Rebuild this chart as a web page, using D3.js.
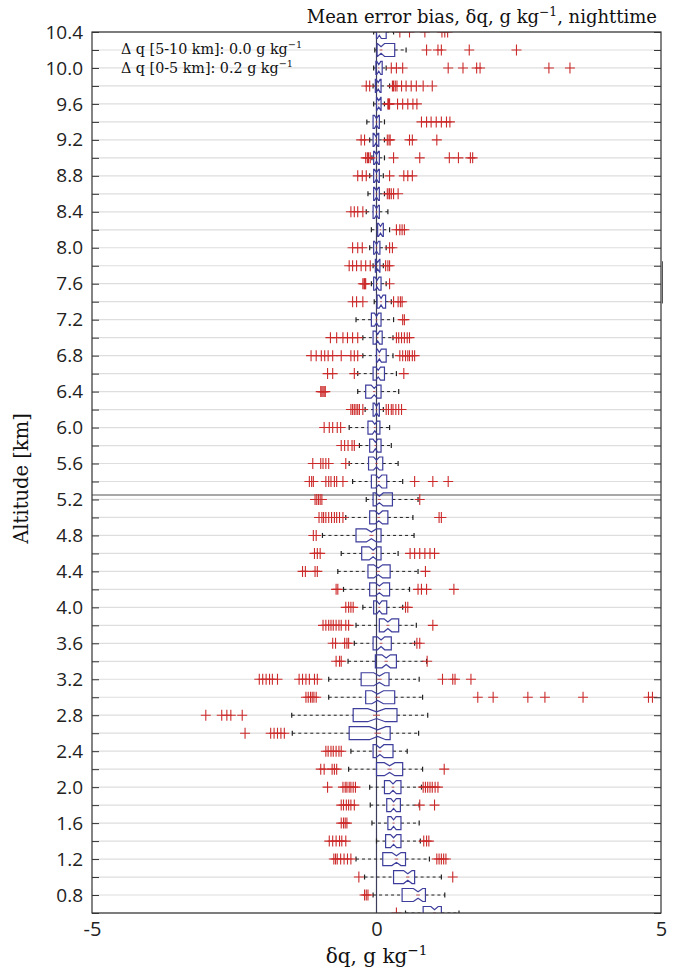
<!DOCTYPE html>
<html>
<head>
<meta charset="utf-8">
<script src="https://cdn.jsdelivr.net/npm/d3@7"></script>
<style>
  body { margin: 0; background: #fff; }
</style>
</head>
<body>
<div class="chart"></div>
<script>
// altitude rows, km (top to bottom)
const altitudes = [10.4, 10.2, 10.0, 9.8, 9.6, 9.4, 9.2, 9.0, 8.8, 8.6, 8.4, 8.2, 8.0, 7.8, 7.6, 7.4, 7.2, 7.0,
  6.8, 6.6, 6.4, 6.2, 6.0, 5.8, 5.6, 5.4, 5.2, 5.0, 4.8, 4.6, 4.4, 4.2, 4.0, 3.8, 3.6, 3.4, 3.2, 3.0,
  2.8, 2.6, 2.4, 2.2, 2.0, 1.8, 1.6, 1.4, 1.2, 1.0, 0.8, 0.6];

const whiskerLow = [-0.05, -0.03, -0.05, -0.06, -0.05, -0.17, -0.12, -0.08, -0.12, -0.15, -0.18, -0.09, -0.12, -0.06, -0.09, -0.04, -0.36, -0.24,
  -0.24, -0.33, -0.33, -0.2, -0.48, -0.3, -0.48, -0.42, -0.18, -0.54, -0.95, -0.62, -0.68, -0.58, -0.24, -0.36, -0.39, -0.5, -0.84, -0.84,
  -1.49, -1.48, -0.45, -0.49, -0.12, -0.11, -0.08, 0.0, -0.36, -0.21, -0.06, 0.51];
const q1 = [0.0, 0.01, -0.01, -0.02, 0.0, -0.06, -0.06, -0.05, -0.05, -0.05, -0.06, 0.02, -0.05, -0.02, -0.05, 0.01, -0.09, -0.06,
  0.0, -0.06, -0.19, -0.06, -0.15, -0.12, -0.14, -0.09, -0.06, -0.12, -0.36, -0.26, -0.15, -0.12, -0.05, 0.05, -0.06, -0.02, -0.27, -0.19,
  -0.41, -0.48, -0.06, 0.0, 0.14, 0.18, 0.2, 0.16, 0.11, 0.3, 0.45, 0.82];
const median = [0.05, 0.08, 0.04, 0.03, 0.04, 0.0, -0.01, 0.0, 0.0, 0.0, 0.0, 0.07, 0.0, 0.02, 0.01, 0.08, 0.0, 0.02,
  0.05, 0.03, -0.04, 0.0, -0.03, -0.02, 0.0, 0.04, 0.05, 0.04, -0.09, -0.06, 0.03, 0.05, 0.05, 0.2, 0.08, 0.17, 0.05, 0.02,
  0.0, 0.02, 0.06, 0.23, 0.29, 0.3, 0.3, 0.3, 0.35, 0.55, 0.73, 1.02];
const q3 = [0.17, 0.32, 0.1, 0.08, 0.08, 0.05, 0.04, 0.05, 0.05, 0.05, 0.05, 0.12, 0.06, 0.06, 0.08, 0.16, 0.08, 0.1,
  0.17, 0.14, 0.08, 0.05, 0.06, 0.08, 0.11, 0.18, 0.28, 0.2, 0.08, 0.08, 0.24, 0.23, 0.18, 0.39, 0.26, 0.35, 0.22, 0.32,
  0.36, 0.24, 0.29, 0.46, 0.43, 0.42, 0.43, 0.43, 0.51, 0.67, 0.86, 1.14];
const whiskerHigh = [0.3, 0.52, 0.17, 0.23, 0.14, 0.14, 0.14, 0.14, 0.12, 0.14, 0.2, 0.23, 0.17, 0.12, 0.17, 0.26, 0.3, 0.29,
  0.29, 0.35, 0.39, 0.12, 0.23, 0.26, 0.38, 0.46, 0.73, 0.64, 0.66, 0.38, 0.73, 0.58, 0.46, 0.7, 0.67, 0.88, 0.75, 0.81,
  0.9, 0.74, 0.54, 0.81, 0.79, 0.75, 0.75, 0.77, 0.93, 1.14, 1.2, 1.45];
const outliers = [
  [0.41, 0.58, 0.85, 1.15, 1.2, 1.25],
  [0.88, 1.08, 1.14, 1.63, 2.46],
  [0.26, 0.35, 0.46, 1.26, 1.52, 1.76, 1.82, 3.03, 3.4],
  [-0.18, -0.12, 0.28, 0.3, 0.33, 0.36, 0.44, 0.52, 0.61, 0.7, 0.82, 0.98],
  [0.2, 0.21, 0.22, 0.23, 0.37, 0.46, 0.55, 0.64, 0.71],
  [0.79, 0.88, 0.96, 1.05, 1.14, 1.23, 1.29],
  [-0.27, -0.21, 0.19, 0.22, 0.24, 0.58, 0.63, 1.06],
  [-0.19, -0.16, -0.14, -0.11, 0.3, 0.76, 1.28, 1.44, 1.65, 1.69],
  [-0.33, -0.25, -0.18, 0.23, 0.48, 0.55, 0.63],
  [0.19, 0.22, 0.23, 0.26, 0.3, 0.38],
  [-0.45, -0.39, -0.33, -0.24],
  [0.35, 0.41, 0.45, 0.49],
  [-0.42, -0.33, -0.25, 0.23, 0.28],
  [-0.48, -0.42, -0.35, -0.27, -0.19, -0.11, 0.16, 0.2, 0.23],
  [-0.24, -0.22, -0.21, -0.2, -0.19, 0.23],
  [-0.42, -0.35, -0.24, 0.3, 0.38, 0.42, 0.45],
  [0.46, 0.49],
  [-0.81, -0.7, -0.59, -0.51, -0.42, -0.33, 0.35, 0.39, 0.44, 0.49, 0.54, 0.58],
  [-1.15, -1.06, -0.97, -0.91, -0.85, -0.77, -0.62, -0.45, -0.39, -0.33, 0.41, 0.46, 0.51, 0.55, 0.58, 0.63, 0.67],
  [-0.86, -0.77, -0.39, 0.48],
  [-0.98, -0.96, -0.94, -0.92, -0.9],
  [-0.45, -0.42, -0.39, -0.36, -0.33, -0.3, -0.24, 0.17, 0.21, 0.26, 0.29, 0.34, 0.39, 0.44],
  [-0.92, -0.83, -0.77, -0.69, -0.63],
  [-0.62, -0.56, -0.5, -0.43, -0.39],
  [-1.12, -0.98, -0.94, -0.89, -0.84, -0.54],
  [-1.18, -1.14, -1.11, -0.89, -0.84, -0.8, -0.74, -0.7, -0.59, 0.67, 0.99, 1.26],
  [-1.08, -1.05, -1.02, -0.99, -0.96, 0.76],
  [-1.01, -0.96, -0.93, -0.89, -0.84, -0.79, -0.74, -0.7, -0.65, -0.59, 1.1, 1.14],
  [-1.11, -1.06],
  [-1.09, -1.04, -0.99, 0.59, 0.67, 0.76, 0.85, 0.94, 1.02],
  [-1.3, -1.25, -1.08, -1.04, 0.86],
  [-0.71, -0.68, 0.73, 0.79, 0.88, 1.36],
  [-0.54, -0.49, -0.45, -0.41, 0.51, 0.55],
  [-0.94, -0.89, -0.84, -0.8, -0.76, -0.71, -0.66, -0.62, -0.54, -0.49, 0.99],
  [-0.77, -0.72, -0.56, -0.52, -0.49, 0.71, 0.76],
  [-0.71, -0.65, -0.62, 0.89],
  [-2.06, -2.0, -1.94, -1.88, -1.83, -1.74, -1.36, -1.3, -1.24, -1.18, -1.09, -1.04, 1.16, 1.34, 1.38, 1.66],
  [-1.24, -1.2, -1.16, -1.13, -1.1, -1.06, 1.78, 2.05, 2.66, 2.96, 3.63, 4.78, 4.85],
  [-3.0, -2.72, -2.63, -2.56, -2.36],
  [-2.31, -1.86, -1.8, -1.74, -1.68, -1.62],
  [-0.89, -0.85, -0.8, -0.76, -0.71, -0.66, -0.62],
  [-0.98, -0.92, -0.78, -0.74, -0.7, 1.19],
  [-0.86, -0.59, -0.55, -0.52, -0.48, -0.45, -0.41, -0.37, 0.82, 0.86, 0.9, 0.94, 0.98, 1.03, 1.08],
  [-0.62, -0.58, -0.53, -0.49, -0.45, -0.39, 0.76, 1.02],
  [-0.62, -0.58, -0.55, -0.52],
  [-0.83, -0.77, -0.71, -0.65, -0.61, -0.54, 0.83, 0.88, 0.92],
  [-0.75, -0.72, -0.69, -0.63, -0.57, -0.51, -0.45, 1.06, 1.1, 1.14, 1.18, 1.22],
  [-0.31, 1.34],
  [-0.21, -0.18, -0.15],
  [0.35]
];

const yTicks = [0.8, 1.2, 1.6, 2.0, 2.4, 2.8, 3.2, 3.6, 4.0, 4.4, 4.8, 5.2, 5.6, 6.0, 6.4, 6.8, 7.2, 7.6, 8.0, 8.4, 8.8, 9.2, 9.6, 10.0, 10.4];
const xTicks = [-5, 0, 5];

const width = 673, height = 973;
const margin = { top: 32, right: 12, bottom: 60, left: 92 };

const serif = "'DejaVu Serif', serif";
const sans = "'Open Sans', sans-serif";

const svg = d3.select(".chart").append("svg")
  .attr("width", width)
  .attr("height", height)
  .style("font-family", serif);

const x = d3.scaleLinear().domain([-5, 5]).range([margin.left, width - margin.right]);
const y = d3.scaleLinear().domain([0.6, 10.4]).range([height - margin.bottom, margin.top]);

const plotW = x(5) - x(-5), plotH = y(0.6) - y(10.4);

svg.append("clipPath").attr("id", "plot-clip")
  .append("rect")
  .attr("x", x(-5)).attr("y", y(10.4))
  .attr("width", plotW).attr("height", plotH);

// grid every 0.2 km
svg.append("g")
  .selectAll("line")
  .data(altitudes)
  .join("line")
    .attr("x1", x(-5)).attr("x2", x(5))
    .attr("y1", d => y(d)).attr("y2", d => y(d))
    .attr("stroke", "#dedede")
    .attr("stroke-width", 1.2);

// separator line
svg.append("line")
  .attr("x1", x(-5)).attr("x2", x(5))
  .attr("y1", y(5.25)).attr("y2", y(5.25))
  .attr("stroke", "#a8a8a8").attr("stroke-width", 2);

// zero line
svg.append("line")
  .attr("x1", x(0)).attr("x2", x(0))
  .attr("y1", y(10.4)).attr("y2", y(0.6))
  .attr("stroke", "#3c3c5c")
  .attr("stroke-width", 1.2);

const rows = altitudes.map((a, i) => ({
  alt: a, lo: whiskerLow[i], q1: q1[i], med: median[i], q3: q3[i], hi: whiskerHigh[i], out: outliers[i]
}));

const plot = svg.append("g").attr("clip-path", "url(#plot-clip)");
const boxH = 6.5, notchD = 3.2, capH = 2.5;
const notchOf = d => Math.max(0.2 * (d.q3 - d.q1), 0.035);

const row = plot.selectAll("g.row")
  .data(rows)
  .join("g")
    .attr("class", "row")
    .attr("transform", d => `translate(0,${y(d.alt)})`);

// whiskers
row.append("line")
  .attr("x1", d => x(d.lo)).attr("x2", d => x(d.q1))
  .attr("stroke", "#222").attr("stroke-width", 1).attr("stroke-dasharray", "3,3");
row.append("line")
  .attr("x1", d => x(d.q3)).attr("x2", d => x(d.hi))
  .attr("stroke", "#222").attr("stroke-width", 1).attr("stroke-dasharray", "3,3");
row.append("line")
  .attr("x1", d => x(d.lo)).attr("x2", d => x(d.lo))
  .attr("y1", -capH).attr("y2", capH)
  .attr("stroke", "#222").attr("stroke-width", 1.2);
row.append("line")
  .attr("x1", d => x(d.hi)).attr("x2", d => x(d.hi))
  .attr("y1", -capH).attr("y2", capH)
  .attr("stroke", "#222").attr("stroke-width", 1.2);

// notched boxes
row.append("path")
  .attr("d", d => {
    const n = notchOf(d);
    const a = x(d.q1), b = x(d.q3), m = x(d.med), l = x(d.med - n), r = x(d.med + n);
    return `M${a},${-boxH}L${l},${-boxH}L${m},${-boxH + notchD}L${r},${-boxH}L${b},${-boxH}` +
      `L${b},${boxH}L${r},${boxH}L${m},${boxH - notchD}L${l},${boxH}L${a},${boxH}Z`;
  })
  .attr("fill", "none")
  .attr("stroke", "#3d3d9c")
  .attr("stroke-width", 1.2);

// median
row.append("line")
  .attr("x1", d => x(d.med - notchOf(d) * 0.4))
  .attr("x2", d => x(d.med + notchOf(d) * 0.4))
  .attr("stroke", "#b84040").attr("stroke-width", 0.9);

// outliers as '+'
row.selectAll("path.out")
  .data(d => d.out)
  .join("path")
    .attr("class", "out")
    .attr("d", v => `M${x(v) - 5},0H${x(v) + 5}M${x(v)},-5.5V5.5`)
    .attr("stroke", "#cc2b2b")
    .attr("stroke-width", 1.1)
    .attr("fill", "none");

// axes frame and ticks
const axisColor = "#333";
svg.append("rect")
  .attr("x", x(-5)).attr("y", y(10.4))
  .attr("width", plotW).attr("height", plotH)
  .attr("fill", "none").attr("stroke", axisColor).attr("stroke-width", 1.2);

svg.append("g")
  .attr("transform", `translate(${x(-5)},0)`)
  .call(d3.axisLeft(y).tickValues(altitudes).tickSize(-7).tickFormat(""))
  .call(g => g.select(".domain").remove())
  .call(g => g.selectAll("line").attr("stroke", axisColor));
svg.append("g")
  .attr("transform", `translate(${x(5)},0)`)
  .call(d3.axisRight(y).tickValues(altitudes).tickSize(-7).tickFormat(""))
  .call(g => g.select(".domain").remove())
  .call(g => g.selectAll("line").attr("stroke", axisColor));

// y tick labels
svg.append("g")
  .attr("transform", `translate(${x(-5)},0)`)
  .call(d3.axisLeft(y).tickValues(yTicks).tickSize(0).tickPadding(9).tickFormat(d3.format(".1f")))
  .call(g => g.select(".domain").remove())
  .call(g => g.selectAll("text")
    .attr("fill", "#222")
    .style("font-family", sans)
    .style("font-size", "19px"));

// x tick labels
svg.append("g")
  .attr("transform", `translate(0,${y(0.6)})`)
  .call(d3.axisBottom(x).tickValues(xTicks).tickSize(0).tickPadding(9).tickFormat(d => String(d)))
  .call(g => g.select(".domain").remove())
  .call(g => g.selectAll("text")
    .attr("fill", "#222")
    .style("font-family", sans)
    .style("font-size", "20px"));

// small mark at right edge
svg.append("line")
  .attr("x1", x(5) + 1.5).attr("x2", x(5) + 1.5)
  .attr("y1", y(7.85)).attr("y2", y(7.38))
  .attr("stroke", "#555").attr("stroke-width", 1);

// superscript helper
function withSup(sel, before, sup, after, size) {
  sel.append("tspan").text(before);
  sel.append("tspan").text(sup).attr("dy", -size * 0.4).style("font-size", (size * 0.68) + "px");
  sel.append("tspan").text(after).attr("dy", size * 0.4);
}

// title
const title = svg.append("text")
  .attr("x", 657).attr("y", 23)
  .attr("text-anchor", "end")
  .style("font-size", "18px").attr("fill", "#111");
withSup(title, "Mean error bias, δq, g kg", "−1", ", nighttime", 18);

// annotations
const ann1 = svg.append("text").attr("x", 121).attr("y", 54)
  .style("font-size", "14.3px").attr("fill", "#111");
withSup(ann1, "Δ q [5-10 km]: 0.0 g kg", "−1", "", 14.3);
const ann2 = svg.append("text").attr("x", 121).attr("y", 73)
  .style("font-size", "14.3px").attr("fill", "#111");
withSup(ann2, "Δ q [0-5 km]: 0.2 g kg", "−1", "", 14.3);

// axis titles
const xl = svg.append("text")
  .attr("x", x(0)).attr("y", 963)
  .attr("text-anchor", "middle")
  .style("font-size", "20px").attr("fill", "#111");
withSup(xl, "δq, g kg", "−1", "", 20);

svg.append("text")
  .attr("transform", `translate(28,${(y(10.4) + y(0.6)) / 2 + 6}) rotate(-90)`)
  .attr("text-anchor", "middle")
  .style("font-size", "19.5px").attr("fill", "#111")
  .text("Altitude [km]");
</script>
</body>
</html>
